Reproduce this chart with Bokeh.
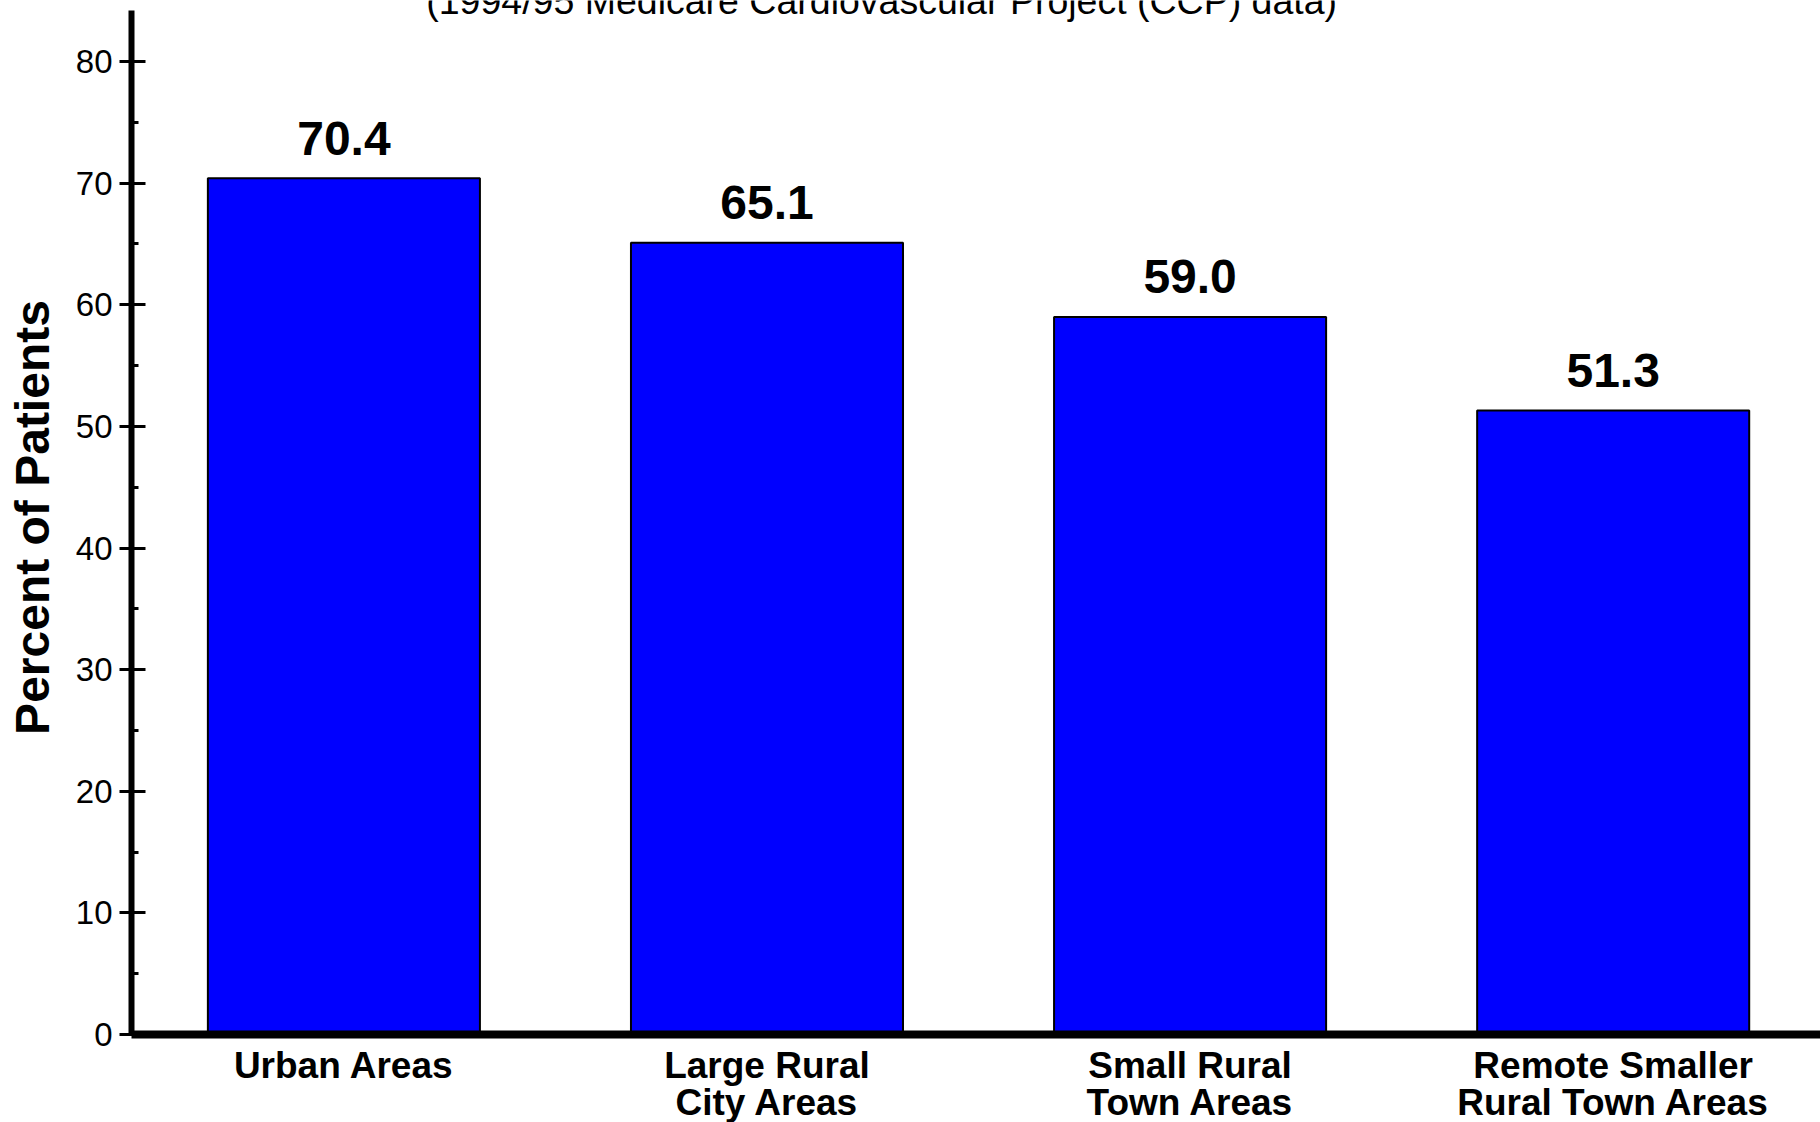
from bokeh.plotting import figure
from bokeh.models import Range1d, FixedTicker, SingleIntervalTicker, Label
from bokeh.embed import file_html
from bokeh.resources import INLINE
from bokeh.core.properties import value

# ---- data ----
categories = ["Urban Areas", "Large Rural\nCity Areas", "Small Rural\nTown Areas",
              "Remote Smaller\nRural Town Areas"]
percent = [70.4, 65.1, 59.0, 51.3]
y_ticks_interval = 10
title_text = "(1994/95 Medicare Cardiovascular Project (CCP) data)"
y_label = "Percent of Patients"

positions = list(range(len(categories)))
value_labels = [f"{v:.1f}" for v in percent]

FONT = "Liberation Sans"

p = figure(frame_width=1689, frame_height=1034,
           x_range=Range1d(-0.502, 3.49), y_range=Range1d(0, 85.02),
           output_backend="svg", toolbar_location=None,
           min_border_left=131, min_border_right=0, min_border_top=0, min_border_bottom=0)
p.outline_line_color = None
p.xgrid.visible = False
p.ygrid.visible = False
p.background_fill_color = "white"
p.border_fill_color = "white"

p.vbar(x=positions, top=percent, width=0.643, fill_color="#0000FF",
       line_color="black", line_width=2)
p.text(x=positions, y=percent, text=value_labels, text_align="center",
       text_baseline="alphabetic", y_offset=-40, text_font=value(FONT),
       text_font_style="bold", text_font_size="48px", text_color="black")

# y axis
ya = p.yaxis[0]
ya.bounds = (0, 84.2)
ya.ticker = SingleIntervalTicker(interval=y_ticks_interval, num_minor_ticks=2)
ya.axis_line_width = 6
ya.axis_line_color = "black"
ya.major_tick_in = 14
ya.major_tick_out = 12
ya.major_tick_line_width = 3
ya.minor_tick_in = 7
ya.minor_tick_out = 0
ya.minor_tick_line_width = 3
ya.major_label_text_font = FONT
ya.major_label_text_font_size = "33px"
ya.major_label_text_color = "black"
ya.major_label_standoff = 7
ya.axis_label = y_label
ya.axis_label_text_font = FONT
ya.axis_label_text_font_style = "bold"
ya.axis_label_text_font_size = "48px"
ya.axis_label_text_color = "black"
ya.axis_label_standoff = 14

# x axis
xa = p.xaxis[0]
xa.ticker = FixedTicker(ticks=positions)
xa.major_label_overrides = {i: c for i, c in zip(positions, categories)}
xa.axis_line_width = 8
xa.axis_line_color = "black"
xa.major_tick_in = 0
xa.major_tick_out = 0
xa.minor_tick_line_color = None
xa.major_label_text_font = FONT
xa.major_label_text_font_style = "bold"
xa.major_label_text_font_size = "37px"
xa.major_label_text_color = "black"
xa.major_label_text_line_height = 0.92
xa.major_label_standoff = 10

title = Label(x=1.271, y=85.0, text=title_text, text_align="center",
              text_baseline="alphabetic", text_font=FONT, text_font_size="37.5px",
              text_color="black")
p.add_layout(title)

open("out.html", "w").write(file_html(p, INLINE))
